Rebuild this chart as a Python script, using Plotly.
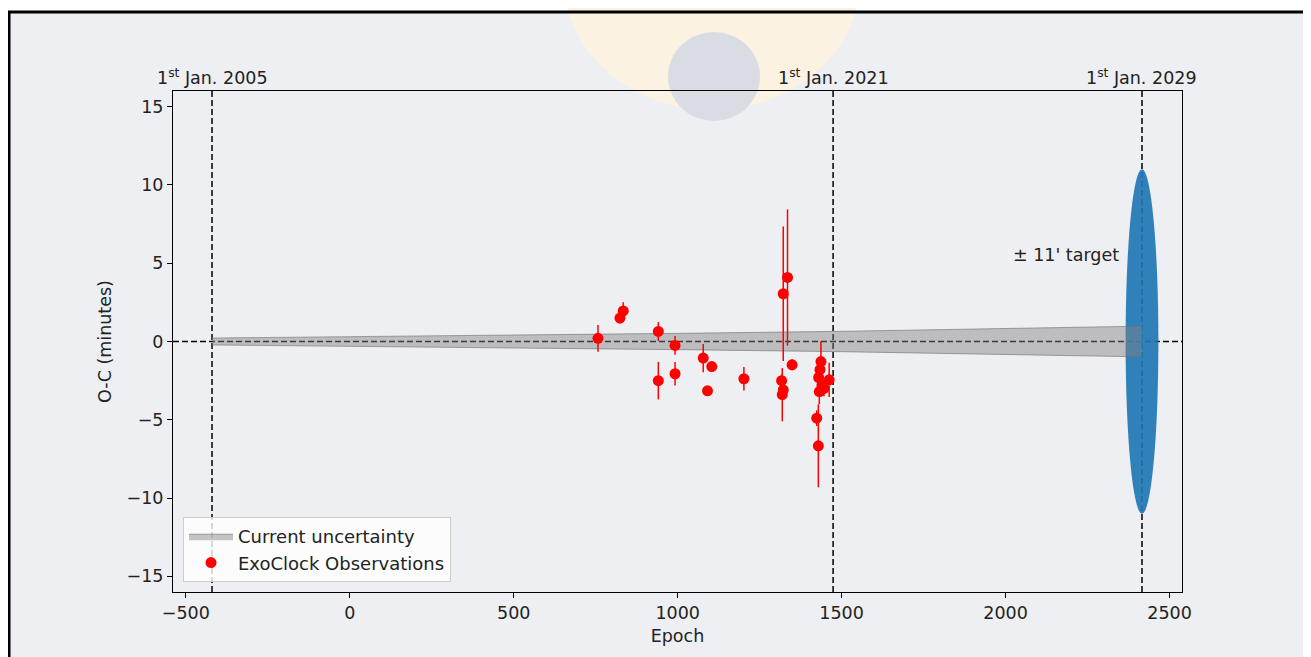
import plotly.graph_objects as go

# ---------------- data ----------------
obs_epoch = [757, 824, 834, 941, 941, 992, 992, 1078, 1104, 1091, 1202,
             1322, 1335, 1317, 1322, 1319, 1349,
             1437, 1434, 1430, 1462, 1440, 1432, 1446, 1424, 1429]
obs_oc = [0.2, 1.5, 1.95, 0.64, -2.5, -0.25, -2.06, -1.06, -1.6, -3.15, -2.38,
          3.05, 4.09, -2.5, -3.09, -3.4, -1.49,
          -1.28, -1.8, -2.3, -2.45, -2.8, -3.2, -3.0, -4.9, -6.66]
obs_err = [0.85, 0.35, 0.55, 0.6, 1.2, 0.6, 0.75, 0.9, 0.3, 0.25, 0.75,
           4.3, 4.35, 0.4, 0.5, 1.7, 0.35,
           1.3, 0.6, 0.7, 1.1, 0.7, 0.8, 0.5, 0.5, 2.65]

band_epoch = [-420, 0, 500, 1000, 1500, 2000, 2416]
band_sigma = [0.22, 0.3, 0.4, 0.52, 0.65, 0.81, 0.98]

date_epochs = [-420, 1474, 2416]
date_labels = ["1<sup>st</sup> Jan. 2005", "1<sup>st</sup> Jan. 2021", "1<sup>st</sup> Jan. 2029"]

target_epoch = 2416
target_halfrange = 11
target_halfwidth_epoch = 50
target_label = "± 11' target"
target_label_pos = (2184, 5.5)

x_range = [-539, 2538]
y_range = [-16, 16]
x_ticks = [-500, 0, 500, 1000, 1500, 2000, 2500]
y_ticks = [-15, -10, -5, 0, 5, 10, 15]

# ---------------- layout geometry ----------------
OFF = 8                       # page body margin of the html
W, H = 1311 - OFF, 657 - OFF
L, R, T, B = 173, 1182, 91, 592
L, R, T, B = L - OFF, R - OFF, T - OFF, B - OFF
PW, PH = R - L, B - T


def px(x):
    return (x - OFF - L) / PW


def py(y):
    return (B - (y - OFF)) / PH


FONT = "DejaVu Sans"
TXT = "#222222"
FS = 17.5

fig = go.Figure()

lower = [-s for s in band_sigma]
fig.add_trace(go.Scatter(x=band_epoch, y=lower, mode="lines",
                         line=dict(color="rgba(110,110,110,0.6)", width=1),
                         showlegend=False, hoverinfo="skip"))
fig.add_trace(go.Scatter(x=band_epoch, y=band_sigma, mode="lines",
                         line=dict(color="rgba(110,110,110,0.6)", width=1),
                         fill="tonexty", fillcolor="rgba(128,128,128,0.45)",
                         name="Current uncertainty"))
fig.add_trace(go.Scatter(x=obs_epoch, y=obs_oc, mode="markers",
                         marker=dict(color="red", size=11, line=dict(width=0)),
                         error_y=dict(type="data", array=obs_err, color="red",
                                      thickness=1.5, width=0),
                         name="ExoClock Observations"))

shapes = []
shapes.append(dict(type="rect", xref="paper", yref="paper",
                   x0=px(9), x1=px(1308), y0=py(700), y1=py(12),
                   fillcolor="#eeeff2", line=dict(width=0), layer="below"))
# watermark hints
shapes.append(dict(type="circle", xref="paper", yref="paper",
                   x0=px(564), x1=px(860), y0=py(110), y1=py(-150),
                   fillcolor="#fcf2e2", line=dict(width=0), layer="below"))
shapes.append(dict(type="circle", xref="paper", yref="paper",
                   x0=px(668), x1=px(760), y0=py(121), y1=py(32),
                   fillcolor="#d9dde3", line=dict(width=0), layer="below"))
shapes.append(dict(type="rect", xref="paper", yref="paper",
                   x0=px(9), x1=px(1308), y0=py(700), y1=py(12),
                   fillcolor="rgba(0,0,0,0)", line=dict(color="black", width=3),
                   layer="above"))
# target ellipse
shapes.append(dict(type="circle", xref="x", yref="y",
                   x0=target_epoch - target_halfwidth_epoch,
                   x1=target_epoch + target_halfwidth_epoch,
                   y0=-target_halfrange, y1=target_halfrange,
                   fillcolor="rgba(31,119,180,0.92)", line=dict(width=0),
                   layer="below"))
# dashed date lines
for e in date_epochs:
    shapes.append(dict(type="line", xref="x", yref="paper", x0=e, x1=e, y0=0, y1=1,
                       line=dict(color="black", width=1.5, dash="6px,3px"),
                       layer="below"))
shapes.append(dict(type="line", xref="paper", yref="y", x0=0, x1=1, y0=0, y1=0,
                   line=dict(color="black", width=1.5, dash="6px,3px"),
                   layer="below"))

annotations = []
for e, lab in zip(date_epochs, date_labels):
    annotations.append(dict(x=e, xref="x", y=1, yref="paper", text=lab,
                            showarrow=False, xanchor="center", yanchor="bottom",
                            yshift=1, font=dict(family=FONT, size=FS, color=TXT)))
annotations.append(dict(x=target_label_pos[0], y=target_label_pos[1], xref="x", yref="y",
                        text=target_label, showarrow=False,
                        font=dict(family=FONT, size=FS, color=TXT)))

axis_common = dict(showgrid=False, zeroline=False, showline=True, linecolor="black",
                   linewidth=1, mirror=True, ticks="outside", ticklen=5,
                   tickwidth=1, tickcolor="black",
                   tickfont=dict(family=FONT, size=FS, color=TXT))

fig.update_layout(
    width=W, height=H,
    margin=dict(l=L, r=W - R, t=T, b=H - B, pad=0),
    paper_bgcolor="white", plot_bgcolor="rgba(0,0,0,0)",
    font=dict(family=FONT, size=FS, color=TXT),
    shapes=shapes, annotations=annotations,
    xaxis=dict(range=x_range, tickvals=x_ticks,
               title=dict(text="Epoch", standoff=7,
                          font=dict(family=FONT, size=FS, color=TXT)),
               **axis_common),
    yaxis=dict(range=y_range, tickvals=y_ticks,
               title=dict(text="O-C (minutes)", standoff=10,
                          font=dict(family=FONT, size=FS, color=TXT)),
               **axis_common),
    legend=dict(x=px(183), y=py(582), xanchor="left", yanchor="bottom",
                bgcolor="rgba(255,255,255,0.8)", bordercolor="#cccccc",
                borderwidth=1, font=dict(family=FONT, size=18, color=TXT),
                traceorder="normal", tracegroupgap=2, itemwidth=44),
    showlegend=True,
)

fig.write_html("out.html")
